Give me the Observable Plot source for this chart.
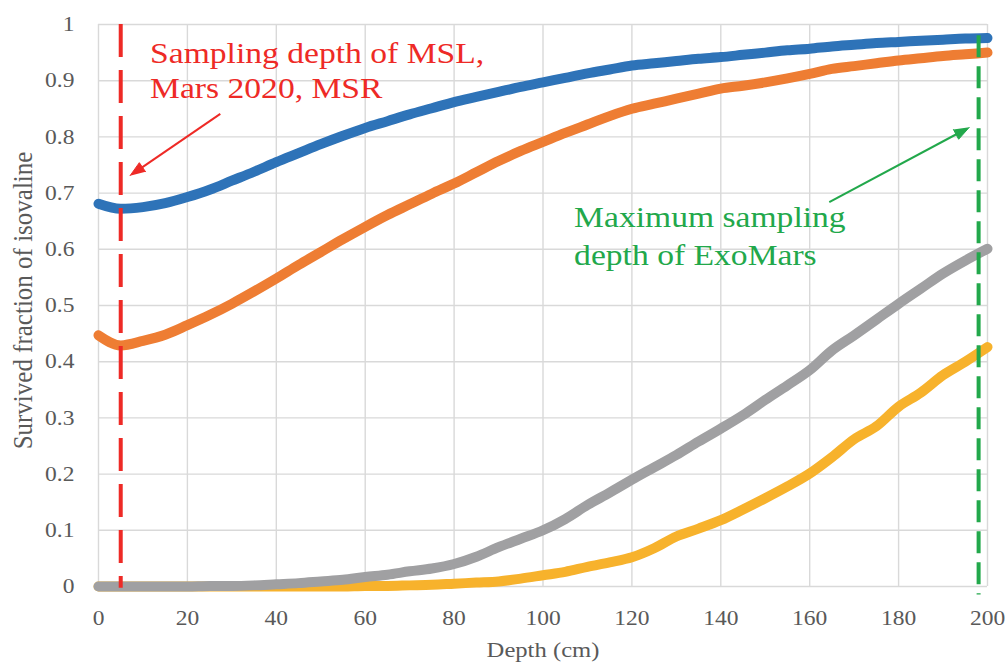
<!DOCTYPE html>
<html>
<head>
<meta charset="utf-8">
<script src="https://cdn.jsdelivr.net/npm/d3@7"></script>
<script src="https://cdn.jsdelivr.net/npm/@observablehq/plot@0.6"></script>
<style>
  html, body { margin: 0; padding: 0; background: #fff; }
  #chart { width: 1007px; height: 662px; overflow: hidden; }
  #chart svg, #chart svg text { font-family: "Liberation Serif", "Times New Roman", serif !important; }
</style>
</head>
<body>
<div id="chart"></div>
<script>
// ---------- data ----------
const depth = [0,5,10,15,20,25,30,35,40,45,50,55,60,65,70,75,80,85,90,95,100,105,110,115,120,125,130,135,140,145,150,155,160,165,170,175,180,185,190,195,200];
const seriesBlue = [.681,.672,.675,.682,.693,.706,.722,.738,.755,.771,.787,.802,.816,.828,.840,.851,.862,.871,.880,.889,.897,.905,.913,.920,.927,.931,.935,.939,.942,.946,.950,.954,.957,.961,.964,.967,.969,.971,.973,.975,.976];
const seriesOrange = [.447,.429,.437,.448,.465,.483,.503,.525,.548,.572,.595,.618,.640,.661,.680,.699,.717,.737,.757,.775,.791,.807,.822,.837,.850,.859,.868,.877,.886,.891,.897,.904,.912,.921,.926,.931,.936,.940,.944,.947,.950];
const seriesGray = [0,0,0,0,0,.001,.001,.002,.004,.006,.009,.012,.017,.021,.027,.032,.040,.053,.070,.085,.100,.120,.145,.167,.190,.212,.234,.258,.281,.305,.332,.358,.385,.420,.447,.475,.503,.530,.557,.580,.601];
const seriesYellow = [0,0,0,0,0,0,0,0,0,0,0,0,.001,.001,.002,.003,.005,.007,.009,.014,.020,.026,.035,.043,.052,.068,.089,.103,.118,.137,.157,.178,.201,.230,.262,.285,.320,.345,.376,.400,.426];
const seriesColors = ["#2E73B8", "#EE7D33", "#A0A0A2", "#F7B22C"];

const xTicks = [0,20,40,60,80,100,120,140,160,180,200];
const xTickLabels = ["0","20","40","60","80","100","120","140","160","180","200"];
const yTicks = [0,0.1,0.2,0.3,0.4,0.5,0.6,0.7,0.8,0.9,1];
const yTickLabels = ["0","0.1","0.2","0.3","0.4","0.5","0.6","0.7","0.8","0.9","1"];
const xLabel = "Depth (cm)";
const yLabel = "Survived fraction of isovaline";

// sampling depth reference lines
const refRed = [{depth: 5, top: 1, bottom: -0.003}];
const refGreen = [{depth: 198, top: 0.98, bottom: -0.015}];

// annotations
const redNote = [
  {x: 11.6, y: 0.9307, t: "Sampling depth of MSL,"},
  {x: 11.6, y: 0.8684, t: "Mars 2020, MSR"}
];
const greenNote = [
  {x: 107, y: 0.639, t: "Maximum sampling"},
  {x: 107, y: 0.5716, t: "depth of ExoMars"}
];
const arrows = [
  {id: "red", x1: 27.4, y1: 0.841, x2: 7.1, y2: 0.731, color: "#EE2A26"},
  {id: "green", x1: 164.4, y1: 0.684, x2: 195.9, y2: 0.817, color: "#22A84B"}
];

// ---------- layout ----------
const W = 1007, H = 662, mL = 98, mR = 20, mT = 24, mB = 76;
const kx = (W - mL - mR) / 200, ky = (H - mT - mB) / 1;
const textStretch = 1.12; // the reference's lettering is horizontally wide

function rows(vals) { return depth.map((d, i) => ({depth: d, v: vals[i]})); }

function headPts(a, L, hw) {
  const dxp = (a.x2 - a.x1) * kx, dyp = -(a.y2 - a.y1) * ky;
  const len = Math.hypot(dxp, dyp), ux = dxp / len, uy = dyp / len;
  const bx = -ux * L, by = -uy * L;
  const pts = [[0, 0], [bx - uy * hw, by + ux * hw], [bx + uy * hw, by - ux * hw]];
  return pts.map(([ox, oy]) => ({id: a.id, x: a.x2 + ox / kx, y: a.y2 - oy / ky}));
}
function shaft(a, L) {
  const dxp = (a.x2 - a.x1) * kx, dyp = -(a.y2 - a.y1) * ky;
  const len = Math.hypot(dxp, dyp), ux = dxp / len, uy = dyp / len;
  return {...a, x2: a.x2 - ux * L / kx, y2: a.y2 + uy * L / ky};
}

const serif = "Liberation Serif, Times New Roman, serif";
const seriesData = [seriesBlue, seriesOrange, seriesGray, seriesYellow];

const marks = [
  Plot.gridX(xTicks, {stroke: "#d9d9d9", strokeOpacity: 1, strokeWidth: 1.4}),
  Plot.gridY(yTicks, {stroke: "#d9d9d9", strokeOpacity: 1, strokeWidth: 1.4}),
  Plot.axisX(xTicks, {tickSize: 0, tickPadding: 24, fontSize: 21, fontFamily: serif, fill: "#595959", label: null,
    tickFormat: d => xTickLabels[xTicks.indexOf(d)]}),
  Plot.axisY(yTicks, {tickSize: 0, tickPadding: 24, fontSize: 21, fontFamily: serif, fill: "#595959", label: null,
    tickFormat: d => yTickLabels[yTicks.indexOf(d)]}),
  Plot.text([xLabel], {frameAnchor: "bottom", dy: 70, lineAnchor: "bottom", textAnchor: "middle",
    fontSize: 22, fontFamily: serif, fill: "#595959", text: d => d}),
  Plot.text([yLabel], {frameAnchor: "left", dx: -75, dy: -5, rotate: -90, lineAnchor: "middle", textAnchor: "middle",
    fontSize: 25, fontFamily: serif, fill: "#595959", text: d => d})
];
[3, 2, 1, 0].forEach(i => {
  marks.push(Plot.line(rows(seriesData[i]), {x: "depth", y: "v", stroke: seriesColors[i], strokeWidth: 10,
    strokeLinecap: "round", strokeLinejoin: "round", curve: "monotone-x"}));
});
marks.push(
  Plot.ruleX(refRed, {x: "depth", y1: "top", y2: "bottom", stroke: "#EE2A26", strokeWidth: 4, strokeDasharray: "33,13"}),
  Plot.ruleX(refGreen, {x: "depth", y1: "top", y2: "bottom", stroke: "#22A84B", strokeWidth: 4, strokeDasharray: "22,9"}),
  Plot.text(redNote, {x: "x", y: "y", text: "t", fill: "#EE2A26", fontSize: 30, fontFamily: serif, textAnchor: "start", lineAnchor: "bottom"}),
  Plot.text(greenNote, {x: "x", y: "y", text: "t", fill: "#22A84B", fontSize: 30, fontFamily: serif, textAnchor: "start", lineAnchor: "bottom"})
);
arrows.forEach(a => {
  marks.push(Plot.link([shaft(a, 12)], {x1: "x1", y1: "y1", x2: "x2", y2: "y2", stroke: a.color, strokeWidth: 2}));
  marks.push(Plot.line(headPts(a, 15, 5.5), {x: "x", y: "y", z: "id", fill: a.color, stroke: a.color, strokeWidth: 1}));
});

const chart = Plot.plot({
  width: W, height: H,
  marginLeft: mL, marginRight: mR, marginTop: mT, marginBottom: mB,
  style: {background: "#fff", overflow: "visible"},
  x: {domain: [0, 200]},
  y: {domain: [0, 1]},
  marks
});

// widen lettering horizontally (screen space) about each text's anchor
try {
  chart.querySelectorAll("text").forEach(t => {
    const tr = t.getAttribute("transform");
    if (tr) {
      t.setAttribute("transform", tr + (/rotate\(\s*-?90/.test(tr) ? ` scale(1,${textStretch})` : ` scale(${textStretch},1)`));
    } else {
      const x = +t.getAttribute("x") || 0, y = +t.getAttribute("y") || 0;
      t.setAttribute("transform", `translate(${x},${y}) scale(${textStretch},1) translate(${-x},${-y})`);
    }
  });
} catch (e) {}

document.getElementById("chart").appendChild(chart);
</script>
</body>
</html>
